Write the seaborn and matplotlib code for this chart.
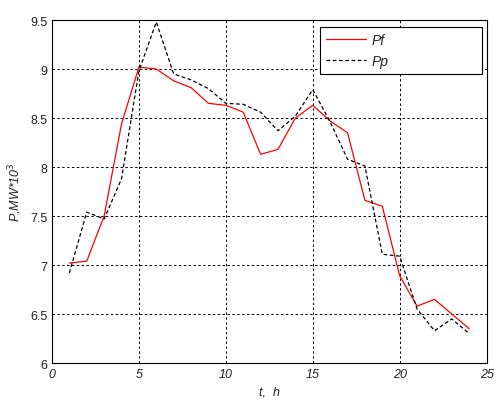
import pandas as pd
import seaborn as sns
import matplotlib.pyplot as plt

hours = list(range(1, 25))
pf = [7.02, 7.04, 7.50, 8.44, 9.02, 9.00, 8.88, 8.81, 8.65, 8.63, 8.56, 8.13,
      8.18, 8.50, 8.63, 8.47, 8.35, 7.66, 7.60, 6.89, 6.58, 6.65, 6.50, 6.35]
pp = [6.92, 7.54, 7.47, 7.88, 8.98, 9.48, 8.95, 8.89, 8.80, 8.65, 8.64, 8.56,
      8.37, 8.52, 8.79, 8.46, 8.08, 8.01, 7.11, 7.09, 6.55, 6.33, 6.45, 6.30]
xticks = [0, 5, 10, 15, 20, 25]
yticks = [6, 6.5, 7, 7.5, 8, 8.5, 9, 9.5]

df = pd.DataFrame({"t": hours * 2, "P": pf + pp,
                   "series": ["Pf"] * len(pf) + ["Pp"] * len(pp)})

sns.set_style("white")
plt.rcParams['font.family'] = ['Liberation Sans', 'DejaVu Sans']

fig = plt.figure(figsize=(4.97, 4.06), dpi=100)
ax = fig.add_axes([0.1046, 0.1034, 0.8745, 0.8448])

sns.lineplot(data=df, x="t", y="P", hue="series", style="series",
             palette={"Pf": "#ff0000", "Pp": "black"},
             dashes={"Pf": "", "Pp": (3, 2)}, linewidth=0.9, ax=ax)

ax.set_xlim(0, 25)
ax.set_ylim(6, 9.5)
ax.set_xticks(xticks)
ax.set_yticks(yticks)
ax.set_xticklabels([str(v) for v in xticks], style="italic", fontsize=9)
ax.set_yticklabels([f"{v:g}" for v in yticks], fontsize=9)
ax.tick_params(direction="in", length=3, color="black", labelcolor="#222222")
ax.grid(True, color="black", linestyle=(0, (2.5, 2.5)), linewidth=0.7)
for s in ax.spines.values():
    s.set_color("black")
    s.set_linewidth(0.8)

ax.set_xlabel("t,  h", style="italic", fontsize=9, color="#222222")
ax.set_ylabel("P,MW*10$^3$", style="italic", fontsize=9, color="#222222")

# MATLAB-style wide legend box
leg = ax.legend(loc="upper left", bbox_to_anchor=(0.6165, 0.851, 0.3727, 0.1286),
                mode="expand", borderaxespad=0,
                prop={"style": "italic", "size": 10}, fancybox=False,
                framealpha=1, edgecolor="black", borderpad=0.45,
                handlelength=2.9, handletextpad=0.4, labelspacing=0.45)
leg.get_frame().set_linewidth(0.8)

fig.savefig("out.png", dpi=100)
plt.close()
